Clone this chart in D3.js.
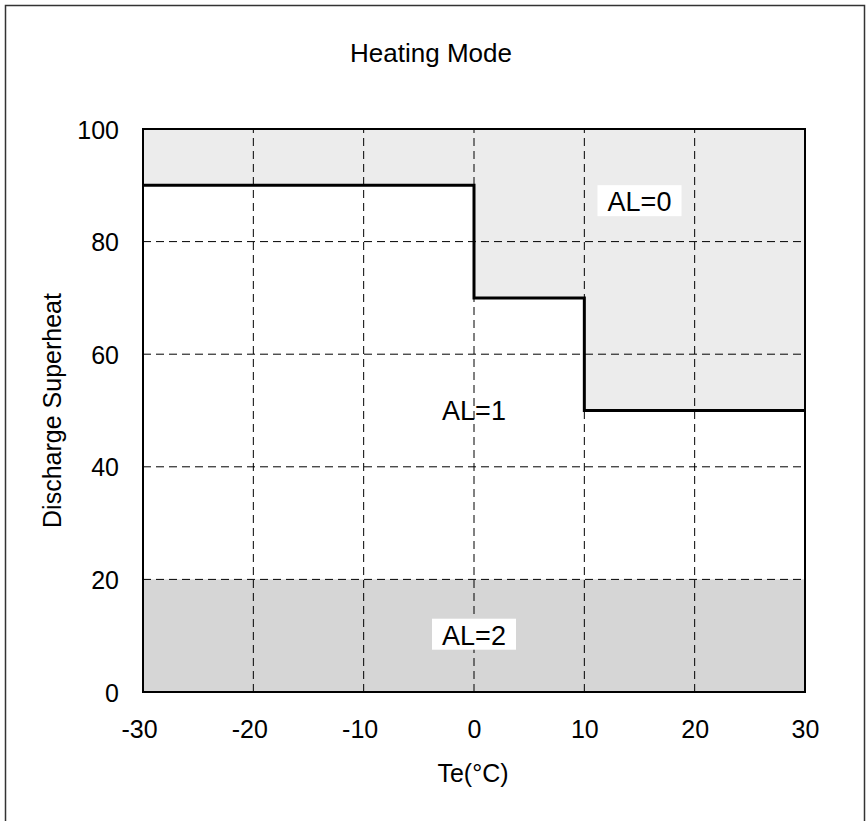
<!DOCTYPE html>
<html>
<head>
<meta charset="utf-8">
<script src="https://cdn.jsdelivr.net/npm/d3@7"></script>
<style>
  body { margin: 0; background: #fff; }
  text { font-family: "Liberation Sans", Arial, sans-serif; fill: #000; }
</style>
</head>
<body>
<svg id="chart" width="866" height="821"></svg>
<script>
// step limit (Te, superheat)
var stepTe = [-30, 0, 10, 30];
var stepSH = [90, 70, 50, 50];
var al2Top = 20;
var xTicks = [-30, -20, -10, 0, 10, 20, 30];
var yTicks = [0, 20, 40, 60, 80, 100];
var zoneLabels = ["AL=0", "AL=1", "AL=2"];
var zoneTe = [15, 0, 0];
var zoneSH = [87, 50, 10];

var svg = d3.select("#chart");
var m = {left: 143, right: 805, top: 129, bottom: 692};

var x = d3.scaleLinear().domain([-30, 30]).range([m.left, m.right]);
var y = d3.scaleLinear().domain([0, 100]).range([m.bottom, m.top]);

// outer frame
svg.append("rect")
  .attr("x", 5.5).attr("y", 5.5)
  .attr("width", 859).attr("height", 840)
  .attr("fill", "none").attr("stroke", "#333").attr("stroke-width", 1.5);

var pts = stepTe.map(function(d, i) { return [d, stepSH[i]]; });

// AL=0 zone
svg.append("path")
  .datum(pts)
  .attr("d", d3.area()
    .curve(d3.curveStepAfter)
    .x(function(d) { return x(d[0]); })
    .y0(y(100))
    .y1(function(d) { return y(d[1]); }))
  .attr("fill", "#ececec");

// AL=2 zone
svg.append("rect")
  .attr("x", x(-30)).attr("y", y(al2Top))
  .attr("width", x(30) - x(-30)).attr("height", y(0) - y(al2Top))
  .attr("fill", "#d6d6d6");

// grid
svg.append("g").selectAll("line")
  .data(xTicks.slice(1, -1))
  .enter().append("line")
  .attr("x1", function(d) { return x(d); }).attr("x2", function(d) { return x(d); })
  .attr("y1", y(0)).attr("y2", y(100))
  .attr("stroke", "#000").attr("stroke-width", 1).attr("stroke-dasharray", "8,5");

svg.append("g").selectAll("line")
  .data(yTicks.slice(1, -1))
  .enter().append("line")
  .attr("y1", function(d) { return y(d); }).attr("y2", function(d) { return y(d); })
  .attr("x1", x(-30)).attr("x2", x(30))
  .attr("stroke", "#000").attr("stroke-width", 1).attr("stroke-dasharray", "8,5");

// step line
svg.append("path")
  .datum(pts)
  .attr("d", d3.line()
    .curve(d3.curveStepAfter)
    .x(function(d) { return x(d[0]); })
    .y(function(d) { return y(d[1]); }))
  .attr("fill", "none").attr("stroke", "#000").attr("stroke-width", 3);

// plot border
svg.append("rect")
  .attr("x", x(-30)).attr("y", y(100))
  .attr("width", x(30) - x(-30)).attr("height", y(0) - y(100))
  .attr("fill", "none").attr("stroke", "#000").attr("stroke-width", 2);

// zone labels
zoneLabels.forEach(function(t, i) {
  var cx = x(zoneTe[i]), cy = y(zoneSH[i]);
  if (i != 1) {
    svg.append("rect")
      .attr("x", cx - 42).attr("y", cy - 17)
      .attr("width", 84).attr("height", 31)
      .attr("fill", "#fff");
  }
  svg.append("text")
    .attr("x", cx).attr("y", cy + 9)
    .attr("text-anchor", "middle")
    .style("font-size", "27px")
    .text(t);
});

// axes (plain hyphen minus, digits centred on the tick)
var xAxis = d3.axisBottom(x).tickValues(xTicks).tickSize(0)
  .tickFormat(function(d) { return String(d); });
var gx = svg.append("g").attr("transform", "translate(0," + y(0) + ")").call(xAxis);
gx.select(".domain").remove();
gx.selectAll("text").style("font-size", "25px").attr("dy", 0).attr("y", 46)
  .attr("dx", function(d) { return d < 0 ? -4 : 0; });

var yAxis = d3.axisLeft(y).tickValues(yTicks).tickSize(0).tickPadding(24)
  .tickFormat(function(d) { return String(d); });
var gy = svg.append("g").attr("transform", "translate(" + x(-30) + ",0)").call(yAxis);
gy.select(".domain").remove();
gy.selectAll("text").style("font-size", "25px").attr("dy", 9);

// titles
svg.append("text")
  .attr("x", 431).attr("y", 62)
  .attr("text-anchor", "middle")
  .style("font-size", "26px")
  .text("Heating Mode");

svg.append("text")
  .attr("x", 473).attr("y", 782)
  .attr("text-anchor", "middle")
  .style("font-size", "25px")
  .text("Te(\u00b0C)");

svg.append("text")
  .attr("transform", "translate(61," + (m.top + m.bottom) / 2 + ") rotate(-90)")
  .attr("text-anchor", "middle")
  .style("font-size", "25px")
  .text("Discharge Superheat");
</script>
</body>
</html>
